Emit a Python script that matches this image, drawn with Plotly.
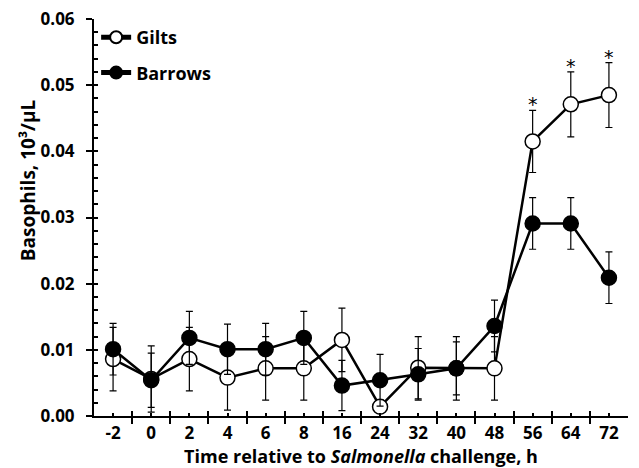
import plotly.graph_objects as go

hours = ["-2", "0", "2", "4", "6", "8", "16", "24", "32", "40", "48", "56", "64", "72"]
gilts = [0.0086, 0.0056, 0.0086, 0.0058, 0.0072, 0.0072, 0.0115, 0.0014, 0.0073, 0.0072, 0.0072, 0.0415, 0.0471, 0.0485]
gilts_se = [0.0048, 0.0050, 0.0048, 0.0049, 0.0048, 0.0048, 0.0048, 0.0010, 0.0047, 0.0048, 0.0048, 0.0047, 0.0049, 0.0049]
barrows = [0.0101, 0.0054, 0.0118, 0.0101, 0.0101, 0.0118, 0.0046, 0.0054, 0.0063, 0.0072, 0.0136, 0.0291, 0.0291, 0.0209]
barrows_se = [0.0039, 0.0041, 0.0040, 0.0038, 0.0039, 0.0040, 0.0038, 0.0039, 0.0039, 0.0040, 0.0039, 0.0039, 0.0039, 0.0039]
signif = ["", "", "", "", "", "", "", "", "", "", "", "*", "*", "*"]

xi = list(range(len(hours)))
FONT = "Open Sans"
FS = 17

fig = go.Figure()
fig.add_trace(go.Scatter(
    x=xi, y=gilts, name="<b>Gilts</b>", mode="lines+markers", legendgroup="g",
    line=dict(color="black", width=2.5),
    marker=dict(size=15, color="white", line=dict(color="black", width=1.5)),
    error_y=dict(type="data", array=gilts_se, color="black", thickness=1.2, width=3.5),
))
fig.add_trace(go.Scatter(
    x=xi, y=barrows, name="<b>Barrows</b>", mode="lines+markers", legendgroup="b",
    line=dict(color="black", width=2.5),
    marker=dict(size=15, color="black", line=dict(color="black", width=1.5)),
    error_y=dict(type="data", array=barrows_se, color="black", thickness=1.2, width=3.5),
))
# empty trace so the overlay tick axes are drawn
fig.add_trace(go.Scatter(x=[], y=[], xaxis="x2", yaxis="y2", showlegend=False, hoverinfo="skip"))

for i, s in enumerate(signif):
    if s:
        fig.add_annotation(x=xi[i], y=gilts[i] + gilts_se[i], text=s, showarrow=False,
                           yanchor="bottom", yshift=-7, font=dict(family="DejaVu Sans", size=19, color="#000000"))

fig.add_annotation(xref="paper", yref="paper", x=0, y=0.594, xshift=-66, xanchor="center", yanchor="middle",
                   text="<b>Basophils, 10³/µL</b>", textangle=-90, showarrow=False,
                   font=dict(family=FONT, size=19, color="black"))

fig.update_layout(
    width=639, height=468,
    margin=dict(l=94, r=11, t=19, b=52),
    plot_bgcolor="white", paper_bgcolor="white",
    font=dict(family=FONT, size=FS, color="black"),
    showlegend=True,
    legend=dict(x=0.004, y=1.0, xanchor="left", yanchor="top", traceorder="grouped",
                tracegroupgap=9, font=dict(family=FONT, size=18, color="black"),
                itemsizing="constant", bgcolor="rgba(0,0,0,0)", itemwidth=30),
    xaxis=dict(
        range=[-0.5, 13.5], tickmode="array", tickvals=xi, ticktext=["<b>%s</b>" % h for h in hours],
        ticks="inside", ticklen=3, tickwidth=1.5, tickcolor="black",
        showline=True, linecolor="black", linewidth=2, showgrid=False, zeroline=False,
        minor=dict(tick0=0.5, dtick=1, ticks="outside", ticklen=6, tickwidth=1.5, tickcolor="black", showgrid=False),
        title=dict(text="<b>Time relative to <i>Salmonella</i> challenge, h</b>", standoff=1,
                   font=dict(family=FONT, size=18, color="black")),
        tickfont=dict(family=FONT, size=FS, color="black"),
        ticklabelstandoff=1, automargin=False,
    ),
    xaxis2=dict(overlaying="x", matches="x", side="bottom", anchor="y", range=[-0.5, 13.5],
                tick0=0.5, dtick=1, ticks="inside", ticklen=5, tickwidth=1.5, tickcolor="black",
                showticklabels=False, showline=False, showgrid=False, zeroline=False),
    yaxis=dict(
        range=[0, 0.06], dtick=0.01, tickformat=".2f",
        ticks="outside", ticklen=6, tickwidth=1.5, tickcolor="black",
        showline=True, linecolor="black", linewidth=2, showgrid=False, zeroline=False,
        tickfont=dict(family=FONT, size=FS, color="black"),
        tickprefix="<b>", ticksuffix="</b>", ticklabelstandoff=8, automargin=False,
    ),
    yaxis2=dict(overlaying="y", matches="y", side="left", anchor="x", range=[0, 0.06],
                dtick=0.002, ticks="inside", ticklen=4, tickwidth=1.5, tickcolor="black",
                showticklabels=False, showline=False, showgrid=False, zeroline=False),
)

fig.write_html("out.html", config={"displayModeBar": False},
               post_script="document.body.style.margin='0px';")
